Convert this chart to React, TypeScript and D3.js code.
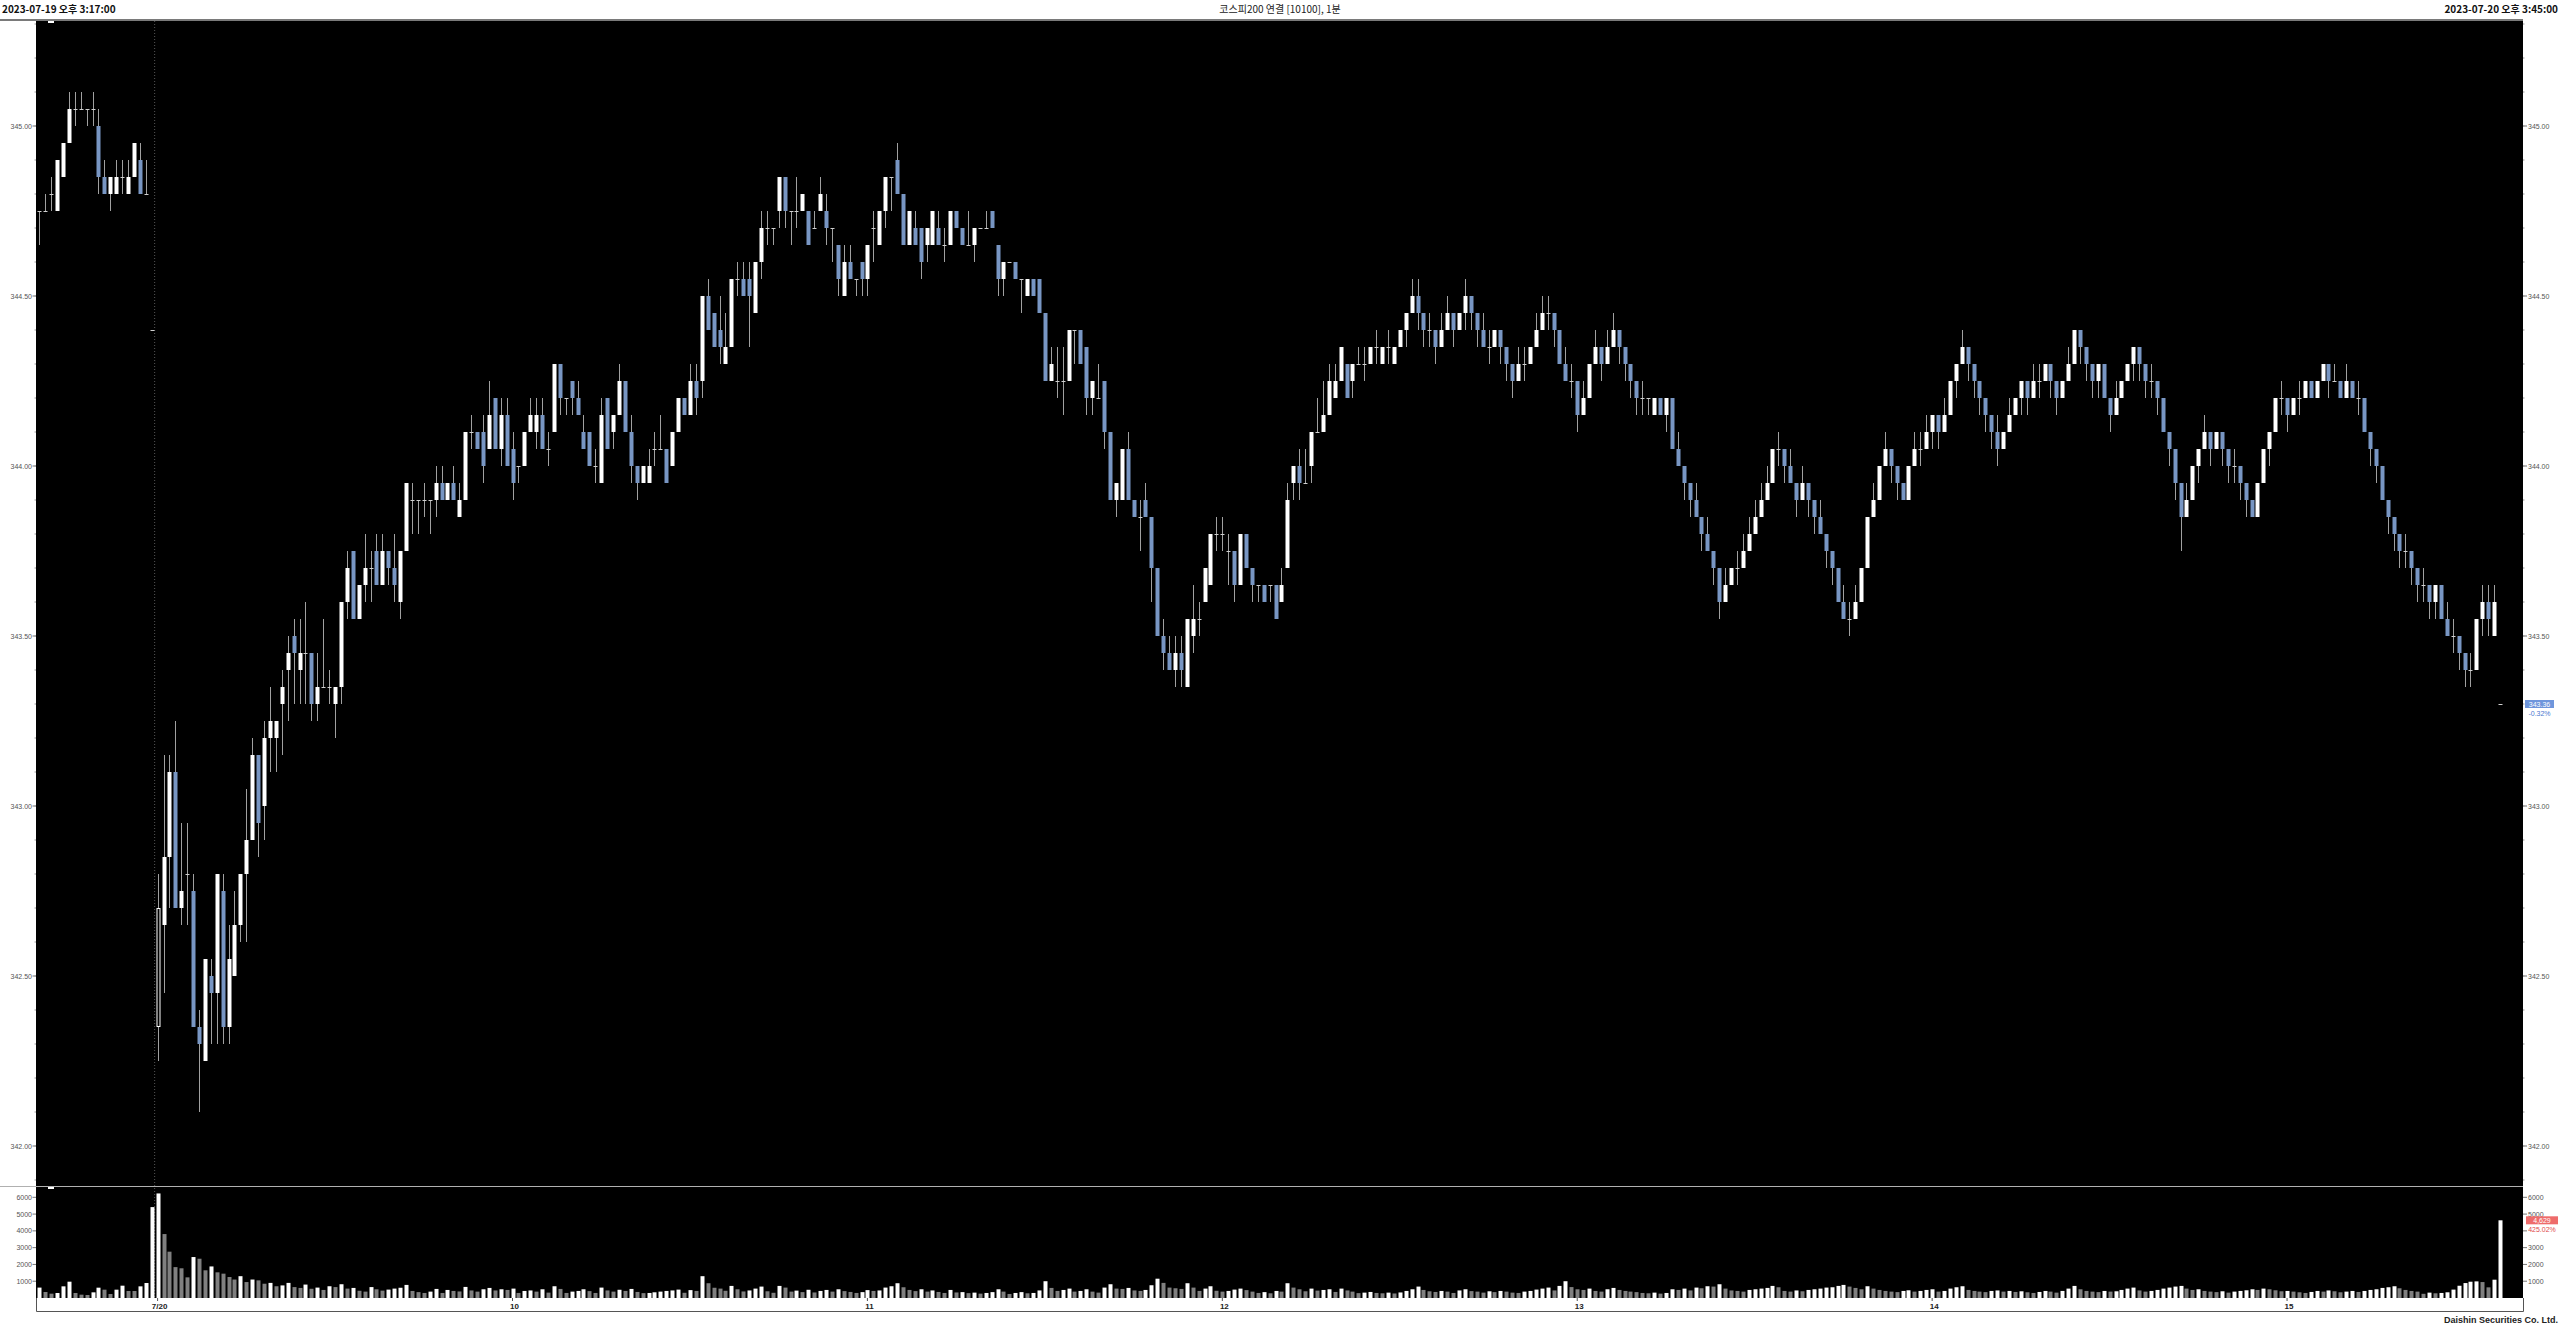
import React from 'react';
import * as d3 from 'd3';

type Candle = [number, number, number, number]; // open, high, low, close

const headerLeft = '2023-07-19 오후 3:17:00';
const headerTitle = '코스피200 연결 [10100], 1분';
const headerRight = '2023-07-20 오후 3:45:00';
const footerText = 'Daishin Securities Co. Ltd.';

const day1Candles: Candle[] = [
  [344.75, 344.75, 344.65, 344.75], [344.75, 344.8, 344.75, 344.75], [344.8, 344.85, 344.75, 344.8],
  [344.75, 344.9, 344.75, 344.9], [344.85, 344.95, 344.85, 344.95], [344.95, 345.1, 344.95, 345.05],
  [345.05, 345.1, 345.0, 345.05], [345.05, 345.1, 345.05, 345.05], [345.05, 345.05, 345.0, 345.05],
  [345.05, 345.1, 345.0, 345.05], [345.0, 345.05, 344.8, 344.85], [344.85, 344.9, 344.8, 344.8],
  [344.8, 344.85, 344.75, 344.85], [344.8, 344.9, 344.8, 344.85], [344.85, 344.9, 344.8, 344.85],
  [344.8, 344.9, 344.8, 344.85], [344.85, 344.95, 344.85, 344.95], [344.9, 344.95, 344.8, 344.8],
  [344.8, 344.9, 344.8, 344.8], [344.4, 344.4, 344.4, 344.4],
];

const day2Candles: Candle[] = [
  [342.35, 342.8, 342.25, 342.7], [342.65, 343.15, 342.45, 342.85], [342.85, 343.15, 342.7, 343.1],
  [343.1, 343.25, 342.7, 342.7], [342.7, 342.95, 342.65, 342.75], [342.8, 342.95, 342.65, 342.8],
  [342.75, 342.8, 342.35, 342.35], [342.35, 342.4, 342.1, 342.3], [342.25, 342.55, 342.25, 342.55],
  [342.5, 342.55, 342.3, 342.45], [342.45, 342.8, 342.3, 342.8], [342.75, 342.8, 342.3, 342.35],
  [342.35, 342.65, 342.3, 342.55], [342.5, 342.75, 342.5, 342.65], [342.65, 342.8, 342.6, 342.8],
  [342.8, 343.05, 342.6, 342.9], [342.9, 343.2, 342.9, 343.15], [343.15, 343.15, 342.85, 342.95],
  [343.0, 343.25, 342.9, 343.2], [343.2, 343.35, 343.1, 343.25], [343.2, 343.25, 343.1, 343.25],
  [343.3, 343.4, 343.15, 343.35], [343.4, 343.5, 343.25, 343.45], [343.5, 343.55, 343.3, 343.45],
  [343.4, 343.55, 343.3, 343.45], [343.45, 343.6, 343.3, 343.45], [343.45, 343.45, 343.25, 343.3],
  [343.3, 343.45, 343.25, 343.35], [343.35, 343.55, 343.35, 343.35], [343.35, 343.4, 343.3, 343.35],
  [343.3, 343.35, 343.2, 343.35], [343.35, 343.6, 343.3, 343.6], [343.6, 343.75, 343.55, 343.7],
  [343.75, 343.75, 343.55, 343.55], [343.55, 343.65, 343.55, 343.65], [343.65, 343.8, 343.6, 343.7],
  [343.7, 343.75, 343.6, 343.7], [343.75, 343.8, 343.65, 343.65], [343.65, 343.8, 343.65, 343.75],
  [343.75, 343.75, 343.65, 343.7], [343.7, 343.8, 343.6, 343.65], [343.6, 343.75, 343.55, 343.75],
  [343.75, 343.95, 343.75, 343.95], [343.9, 343.95, 343.8, 343.9], [343.9, 343.9, 343.8, 343.9],
  [343.9, 343.95, 343.85, 343.9], [343.9, 343.9, 343.8, 343.9], [343.9, 344.0, 343.85, 343.95],
  [343.95, 344.0, 343.9, 343.9], [343.9, 343.95, 343.9, 343.95], [343.95, 344.0, 343.9, 343.9],
  [343.85, 343.95, 343.85, 343.9], [343.9, 344.1, 343.9, 344.1], [344.1, 344.15, 344.05, 344.1],
  [344.1, 344.1, 344.05, 344.05], [344.1, 344.15, 343.95, 344.0], [344.05, 344.25, 344.05, 344.15],
  [344.2, 344.2, 344.05, 344.05], [344.05, 344.2, 344.0, 344.15], [344.15, 344.2, 344.0, 344.0],
  [344.05, 344.1, 343.9, 343.95], [344.0, 344.0, 343.95, 344.0], [344.0, 344.1, 344.0, 344.1],
  [344.1, 344.2, 344.1, 344.15], [344.1, 344.2, 344.05, 344.15], [344.15, 344.2, 344.05, 344.05],
  [344.05, 344.1, 344.0, 344.05], [344.1, 344.3, 344.1, 344.3], [344.3, 344.3, 344.15, 344.2],
  [344.2, 344.2, 344.15, 344.2], [344.25, 344.25, 344.15, 344.2], [344.2, 344.25, 344.15, 344.15],
  [344.1, 344.15, 344.05, 344.05], [344.1, 344.1, 344.0, 344.0], [344.0, 344.05, 343.95, 344.0],
  [343.95, 344.2, 343.95, 344.15], [344.2, 344.2, 344.05, 344.05], [344.1, 344.15, 344.05, 344.15],
  [344.15, 344.3, 344.15, 344.25], [344.25, 344.25, 344.1, 344.1], [344.1, 344.15, 343.95, 344.0],
  [344.0, 344.0, 343.9, 343.95], [343.95, 344.0, 343.95, 344.0], [343.95, 344.05, 343.95, 344.0],
  [344.05, 344.1, 344.0, 344.05], [344.05, 344.15, 344.05, 344.05], [344.05, 344.05, 343.95, 343.95],
  [344.0, 344.1, 344.0, 344.1], [344.1, 344.2, 344.1, 344.2], [344.2, 344.2, 344.15, 344.15],
  [344.15, 344.3, 344.15, 344.25], [344.25, 344.3, 344.15, 344.2], [344.25, 344.5, 344.2, 344.5],
  [344.5, 344.55, 344.4, 344.4], [344.45, 344.45, 344.35, 344.35], [344.4, 344.5, 344.3, 344.35],
  [344.3, 344.45, 344.3, 344.35], [344.35, 344.55, 344.35, 344.55], [344.55, 344.6, 344.5, 344.55],
  [344.55, 344.6, 344.5, 344.5], [344.55, 344.6, 344.35, 344.5], [344.45, 344.6, 344.45, 344.6],
  [344.6, 344.75, 344.55, 344.7], [344.7, 344.75, 344.65, 344.7], [344.7, 344.7, 344.65, 344.7],
  [344.75, 344.85, 344.7, 344.85], [344.85, 344.85, 344.7, 344.75], [344.75, 344.75, 344.65, 344.75],
  [344.75, 344.85, 344.7, 344.75], [344.75, 344.8, 344.75, 344.8], [344.75, 344.75, 344.65, 344.65],
  [344.7, 344.75, 344.7, 344.7], [344.75, 344.85, 344.75, 344.8], [344.75, 344.8, 344.65, 344.7],
  [344.7, 344.7, 344.6, 344.7], [344.65, 344.65, 344.5, 344.55], [344.5, 344.65, 344.5, 344.6],
  [344.6, 344.65, 344.55, 344.55], [344.55, 344.55, 344.5, 344.55], [344.6, 344.6, 344.5, 344.55],
  [344.55, 344.65, 344.5, 344.65], [344.7, 344.75, 344.6, 344.7], [344.65, 344.75, 344.65, 344.75],
  [344.75, 344.85, 344.7, 344.85], [344.85, 344.85, 344.75, 344.85], [344.9, 344.95, 344.8, 344.8],
  [344.8, 344.8, 344.65, 344.65], [344.65, 344.75, 344.65, 344.75], [344.7, 344.75, 344.65, 344.65],
  [344.7, 344.7, 344.55, 344.6], [344.65, 344.7, 344.6, 344.7], [344.65, 344.75, 344.65, 344.75],
  [344.7, 344.75, 344.65, 344.65], [344.65, 344.7, 344.6, 344.65], [344.65, 344.75, 344.65, 344.75],
  [344.75, 344.75, 344.7, 344.7], [344.7, 344.7, 344.65, 344.65], [344.65, 344.75, 344.65, 344.65],
  [344.65, 344.7, 344.6, 344.7], [344.7, 344.7, 344.7, 344.7], [344.7, 344.75, 344.7, 344.7],
  [344.75, 344.75, 344.7, 344.7], [344.65, 344.65, 344.5, 344.55], [344.55, 344.6, 344.5, 344.6],
  [344.6, 344.6, 344.6, 344.6], [344.6, 344.6, 344.55, 344.55], [344.55, 344.55, 344.45, 344.55],
  [344.5, 344.55, 344.5, 344.55], [344.55, 344.55, 344.5, 344.5], [344.55, 344.55, 344.45, 344.45],
  [344.45, 344.45, 344.25, 344.25], [344.25, 344.35, 344.25, 344.3], [344.25, 344.35, 344.2, 344.25],
  [344.25, 344.35, 344.15, 344.25], [344.25, 344.4, 344.25, 344.4], [344.4, 344.4, 344.3, 344.4],
  [344.4, 344.4, 344.3, 344.3], [344.35, 344.35, 344.15, 344.2], [344.2, 344.25, 344.15, 344.25],
  [344.2, 344.3, 344.2, 344.2], [344.25, 344.25, 344.05, 344.1], [344.1, 344.1, 343.9, 343.9],
  [343.9, 343.95, 343.85, 343.95], [343.9, 344.05, 343.9, 344.05], [344.05, 344.1, 343.9, 343.9],
  [343.9, 343.9, 343.85, 343.85], [343.85, 343.9, 343.75, 343.85], [343.9, 343.95, 343.85, 343.85],
  [343.85, 343.85, 343.6, 343.7], [343.7, 343.7, 343.5, 343.5], [343.5, 343.55, 343.4, 343.45],
  [343.45, 343.5, 343.4, 343.4], [343.4, 343.5, 343.35, 343.45], [343.45, 343.5, 343.35, 343.4],
  [343.35, 343.55, 343.35, 343.55], [343.5, 343.65, 343.45, 343.55], [343.55, 343.6, 343.5, 343.55],
  [343.6, 343.7, 343.6, 343.7], [343.65, 343.8, 343.65, 343.8], [343.8, 343.85, 343.75, 343.8],
  [343.8, 343.85, 343.75, 343.8], [343.75, 343.8, 343.65, 343.75], [343.75, 343.75, 343.6, 343.65],
  [343.65, 343.8, 343.65, 343.8], [343.8, 343.8, 343.7, 343.7], [343.7, 343.7, 343.6, 343.65],
  [343.65, 343.65, 343.6, 343.65], [343.65, 343.65, 343.6, 343.6], [343.65, 343.65, 343.6, 343.65],
  [343.65, 343.65, 343.55, 343.55], [343.6, 343.7, 343.6, 343.65], [343.7, 343.95, 343.7, 343.9],
  [343.95, 344.0, 343.9, 344.0], [344.0, 344.05, 343.9, 343.95], [343.95, 344.05, 343.95, 343.95],
  [344.0, 344.1, 343.95, 344.1], [344.1, 344.2, 344.1, 344.1], [344.1, 344.25, 344.1, 344.15],
  [344.15, 344.3, 344.15, 344.25], [344.2, 344.3, 344.2, 344.25], [344.25, 344.35, 344.25, 344.35],
  [344.3, 344.3, 344.2, 344.2], [344.25, 344.3, 344.2, 344.3], [344.3, 344.35, 344.3, 344.3],
  [344.3, 344.35, 344.25, 344.3], [344.3, 344.35, 344.3, 344.35], [344.35, 344.4, 344.3, 344.35],
  [344.3, 344.35, 344.3, 344.35], [344.35, 344.4, 344.3, 344.35], [344.3, 344.35, 344.3, 344.35],
  [344.35, 344.4, 344.35, 344.4], [344.4, 344.45, 344.35, 344.45], [344.45, 344.55, 344.45, 344.5],
  [344.5, 344.55, 344.4, 344.45], [344.45, 344.45, 344.35, 344.4], [344.4, 344.45, 344.35, 344.4],
  [344.4, 344.4, 344.3, 344.35], [344.35, 344.45, 344.35, 344.4], [344.4, 344.5, 344.4, 344.45],
  [344.45, 344.45, 344.35, 344.4], [344.4, 344.45, 344.4, 344.45], [344.45, 344.55, 344.4, 344.5],
  [344.5, 344.5, 344.4, 344.45], [344.45, 344.45, 344.35, 344.4], [344.4, 344.45, 344.35, 344.35],
  [344.35, 344.4, 344.3, 344.35], [344.35, 344.4, 344.35, 344.4], [344.4, 344.4, 344.3, 344.35],
  [344.35, 344.35, 344.25, 344.3], [344.3, 344.3, 344.2, 344.25], [344.25, 344.35, 344.25, 344.3],
  [344.3, 344.35, 344.25, 344.3], [344.3, 344.35, 344.3, 344.35], [344.35, 344.45, 344.35, 344.4],
  [344.4, 344.5, 344.4, 344.45], [344.45, 344.5, 344.4, 344.45], [344.45, 344.45, 344.35, 344.4],
  [344.4, 344.4, 344.3, 344.3], [344.3, 344.35, 344.25, 344.25], [344.25, 344.3, 344.2, 344.25],
  [344.25, 344.25, 344.1, 344.15], [344.15, 344.25, 344.15, 344.2], [344.2, 344.3, 344.2, 344.3],
  [344.3, 344.4, 344.3, 344.35], [344.35, 344.35, 344.25, 344.3], [344.3, 344.4, 344.3, 344.35],
  [344.35, 344.45, 344.35, 344.4], [344.4, 344.4, 344.3, 344.35], [344.35, 344.35, 344.25, 344.3],
  [344.3, 344.3, 344.2, 344.25], [344.25, 344.25, 344.15, 344.2], [344.2, 344.25, 344.15, 344.2],
  [344.2, 344.2, 344.15, 344.2], [344.15, 344.2, 344.15, 344.2], [344.2, 344.2, 344.15, 344.15],
  [344.15, 344.2, 344.1, 344.2], [344.2, 344.2, 344.05, 344.05], [344.05, 344.1, 344.0, 344.0],
  [344.0, 344.0, 343.9, 343.95], [343.95, 343.95, 343.85, 343.9], [343.9, 343.95, 343.85, 343.85],
  [343.85, 343.85, 343.75, 343.8], [343.8, 343.85, 343.75, 343.75], [343.75, 343.75, 343.65, 343.7],
  [343.7, 343.7, 343.55, 343.6], [343.6, 343.7, 343.6, 343.65], [343.65, 343.7, 343.65, 343.7],
  [343.7, 343.75, 343.65, 343.7], [343.7, 343.8, 343.7, 343.75], [343.75, 343.85, 343.75, 343.8],
  [343.8, 343.9, 343.8, 343.85], [343.85, 343.95, 343.85, 343.9], [343.9, 344.0, 343.9, 343.95],
  [343.95, 344.05, 343.95, 344.05], [344.05, 344.1, 344.0, 344.05], [344.05, 344.05, 343.95, 344.0],
  [344.0, 344.05, 343.95, 343.95], [343.95, 343.95, 343.85, 343.9], [343.9, 344.0, 343.9, 343.95],
  [343.95, 343.95, 343.85, 343.9], [343.9, 343.9, 343.8, 343.85], [343.85, 343.9, 343.8, 343.8],
  [343.8, 343.8, 343.7, 343.75], [343.75, 343.75, 343.65, 343.7], [343.7, 343.7, 343.6, 343.6],
  [343.6, 343.65, 343.55, 343.55], [343.55, 343.6, 343.5, 343.55], [343.55, 343.65, 343.55, 343.6],
  [343.6, 343.7, 343.6, 343.7], [343.7, 343.85, 343.7, 343.85], [343.85, 343.95, 343.85, 343.9],
  [343.9, 344.0, 343.9, 344.0], [344.0, 344.1, 344.0, 344.05], [344.05, 344.05, 343.95, 344.0],
  [344.0, 344.0, 343.9, 343.95], [343.95, 343.95, 343.9, 343.9], [343.9, 344.0, 343.9, 344.0],
  [344.0, 344.1, 344.0, 344.05], [344.05, 344.1, 344.0, 344.05], [344.05, 344.15, 344.05, 344.1],
  [344.1, 344.15, 344.05, 344.15], [344.15, 344.15, 344.05, 344.1], [344.1, 344.2, 344.1, 344.15],
  [344.15, 344.25, 344.15, 344.25], [344.25, 344.3, 344.2, 344.3], [344.3, 344.4, 344.3, 344.35],
  [344.35, 344.35, 344.25, 344.3], [344.3, 344.3, 344.2, 344.25], [344.25, 344.25, 344.15, 344.2],
  [344.2, 344.2, 344.1, 344.15], [344.15, 344.15, 344.05, 344.1], [344.1, 344.15, 344.0, 344.05],
  [344.05, 344.1, 344.05, 344.1], [344.1, 344.2, 344.1, 344.15], [344.15, 344.2, 344.15, 344.2],
  [344.2, 344.25, 344.15, 344.25], [344.25, 344.25, 344.15, 344.2], [344.2, 344.3, 344.2, 344.25],
  [344.25, 344.3, 344.2, 344.25], [344.25, 344.3, 344.25, 344.3], [344.3, 344.3, 344.2, 344.25],
  [344.25, 344.25, 344.15, 344.2], [344.2, 344.25, 344.2, 344.25], [344.25, 344.35, 344.25, 344.3],
  [344.3, 344.4, 344.3, 344.4], [344.4, 344.4, 344.3, 344.35], [344.35, 344.35, 344.25, 344.3],
  [344.3, 344.3, 344.2, 344.25], [344.25, 344.3, 344.2, 344.3], [344.3, 344.3, 344.2, 344.2],
  [344.2, 344.2, 344.1, 344.15], [344.15, 344.25, 344.15, 344.2], [344.2, 344.25, 344.2, 344.25],
  [344.25, 344.3, 344.25, 344.3], [344.3, 344.35, 344.25, 344.35], [344.35, 344.35, 344.25, 344.3],
  [344.3, 344.3, 344.2, 344.25], [344.25, 344.3, 344.2, 344.25], [344.25, 344.25, 344.15, 344.2],
  [344.2, 344.2, 344.1, 344.1], [344.1, 344.1, 344.0, 344.05], [344.05, 344.05, 343.9, 343.95],
  [343.95, 343.95, 343.75, 343.85], [343.85, 343.95, 343.85, 343.9], [343.9, 344.0, 343.9, 344.0],
  [344.0, 344.05, 343.95, 344.05], [344.05, 344.15, 344.05, 344.1], [344.1, 344.1, 344.0, 344.05],
  [344.05, 344.1, 344.05, 344.1], [344.1, 344.1, 344.0, 344.05], [344.05, 344.05, 343.95, 344.0],
  [344.0, 344.05, 343.95, 344.0], [344.0, 344.0, 343.9, 343.95], [343.95, 343.95, 343.85, 343.9],
  [343.9, 343.9, 343.85, 343.85], [343.85, 343.95, 343.85, 343.95], [343.95, 344.05, 343.95, 344.05],
  [344.05, 344.1, 344.0, 344.1], [344.1, 344.2, 344.1, 344.2], [344.2, 344.25, 344.15, 344.2],
  [344.2, 344.2, 344.1, 344.15], [344.15, 344.2, 344.15, 344.2], [344.2, 344.25, 344.15, 344.2],
  [344.2, 344.25, 344.2, 344.25], [344.25, 344.25, 344.2, 344.2], [344.2, 344.25, 344.2, 344.25],
  [344.25, 344.3, 344.25, 344.3], [344.3, 344.3, 344.2, 344.25], [344.25, 344.3, 344.25, 344.25],
  [344.25, 344.25, 344.2, 344.2], [344.2, 344.3, 344.2, 344.25], [344.25, 344.25, 344.2, 344.2],
  [344.2, 344.25, 344.15, 344.2], [344.2, 344.2, 344.1, 344.1], [344.1, 344.1, 344.0, 344.05],
  [344.05, 344.05, 343.95, 344.0], [344.0, 344.0, 343.9, 343.9], [343.9, 343.9, 343.8, 343.85],
  [343.85, 343.85, 343.75, 343.8], [343.8, 343.8, 343.7, 343.75], [343.75, 343.8, 343.7, 343.75],
  [343.75, 343.75, 343.65, 343.7], [343.7, 343.7, 343.6, 343.65], [343.65, 343.7, 343.6, 343.65],
  [343.65, 343.65, 343.55, 343.6], [343.6, 343.65, 343.55, 343.65], [343.65, 343.65, 343.55, 343.55],
  [343.55, 343.6, 343.5, 343.5], [343.5, 343.55, 343.45, 343.5], [343.5, 343.5, 343.4, 343.45],
  [343.45, 343.45, 343.35, 343.4], [343.4, 343.45, 343.35, 343.4], [343.4, 343.55, 343.4, 343.55],
  [343.55, 343.65, 343.5, 343.6], [343.6, 343.65, 343.5, 343.55], [343.5, 343.65, 343.5, 343.6],
  [343.3, 343.3, 343.3, 343.3],
];

const volumes: number[] = [
  620, 357, 258, 298, 694, 972, 298, 198, 179, 337, 615, 496, 238, 496, 734, 417, 417, 694, 893, 5416,
  6230, 3810, 2760, 1840, 1770, 1230, 2440, 2340, 1650, 1880, 1530,
  1450, 1250, 1100, 1300, 950, 1100, 1050, 850, 900, 700,
  750, 900, 650, 600, 800, 550, 620, 480, 700, 650,
  820, 560, 600, 430, 380, 650, 520, 440, 500, 560,
  610, 780, 420, 350, 300, 380, 540, 300, 480, 420,
  390, 660, 450, 380, 520, 600, 450, 520, 480, 560,
  300, 420, 450, 380, 520, 320, 700, 540, 300, 380,
  420, 520, 410, 300, 620, 450, 380, 490, 420, 540,
  360, 290, 300, 340, 380, 420, 450, 500, 310, 470,
  420, 1300, 880, 610, 560, 430, 720, 520, 390, 450,
  560, 680, 400, 310, 720, 620, 380, 440, 350, 490,
  330, 420, 480, 380, 520, 410, 360, 300, 350, 470,
  420, 450, 620, 700, 880, 640, 480, 410, 520, 380,
  450, 360, 300, 480, 330, 350, 290, 320, 260, 300,
  350, 520, 380, 240, 300, 350, 280, 300, 450, 1000,
  600, 420, 480, 560, 380, 420, 520, 380, 320, 620,
  820, 560, 540, 600, 450, 420, 480, 760, 1150, 900,
  620, 580, 540, 880, 620, 420, 560, 700, 430, 380,
  420, 500, 560, 470, 380, 300, 350, 280, 420, 380,
  880, 620, 520, 400, 560, 440, 480, 520, 360, 560,
  450, 380, 290, 320, 360, 300, 280, 320, 270, 330,
  420, 520, 680, 480, 400, 360, 420, 380, 300, 450,
  520, 410, 380, 320, 400, 350, 420, 380, 320, 300,
  380, 420, 500, 560, 620, 450, 720, 1000, 650, 520,
  480, 560, 420, 380, 520, 600, 480, 420, 380, 350,
  300, 280, 320, 260, 300, 520, 480, 560, 450, 620,
  580, 700, 680, 820, 560, 450, 420, 380, 480, 520,
  560, 600, 720, 640, 420, 380, 450, 400, 480, 520,
  560, 620, 640, 720, 780, 680, 600, 520, 700, 560,
  480, 420, 380, 350, 420, 460, 380, 420, 480, 520,
  380, 420, 560, 640, 700, 480, 420, 380, 350, 420,
  450, 380, 420, 360, 400, 340, 300, 360, 420, 380,
  320, 420, 560, 720, 520, 420, 380, 350, 420, 380,
  400, 480, 560, 620, 450, 380, 420, 480, 560, 620,
  680, 720, 560, 480, 520, 420, 380, 350, 400, 320,
  380, 420, 460, 520, 480, 560, 520, 460, 400, 420,
  380, 340, 300, 360, 420, 380, 450, 400, 340, 380,
  420, 360, 420, 480, 520, 600, 640, 700, 580, 480,
  420, 380, 250, 320, 280,
  300, 340, 500, 730, 890, 970, 990, 950, 635, 1090, 4629,
];

const priceTicks = [342, 342.5, 343, 343.5, 344, 344.5, 345];
const volumeTicks = [1000, 2000, 3000, 4000, 5000, 6000];
const timeLabels = ['7/20', '10', '11', '12', '13', '14', '15'];
const timeLabelIndex = [20, 80, 140, 200, 260, 320, 380];

const lastPriceText = '343.36';
const lastPriceLevel = 343.3;
const priceChangeText = '-0.32%';
const lastVolume = 4629;
const lastVolumeText = '4,629';
const volumeChangeText = '425.02%';

const W = 2560;
const H = 1328;
const PL = 36;
const PR = 2523;
const PT = 21;
const PB = 1186;
const VT = 1187;
const VB = 1298;
const UP = '#ffffff';
const DOWN = '#7896c3';
const WICK = '#a0a0a0';

export default function App() {
  const candles = [...day1Candles, ...day2Candles];
  const total = candles.length;
  const x = d3.scaleLinear().domain([0, total - 1]).range([39.3, 2500]);
  const y = d3.scaleLinear().domain([342, 345]).range([1146, 126]);
  const yv = d3.scaleLinear().domain([0, 6000]).range([VB, VB - 100.7]);
  const bw = 4;
  const minor = d3.range(3419, 3454).map((v) => v / 10).filter((v) => y(v) > PT && y(v) < PB);
  const sepX = (x(day1Candles.length - 1) + x(day1Candles.length)) / 2;
  const fontAxis = 'Liberation Sans, Arial, sans-serif';
  const fontKr = '"Noto Sans CJK KR", sans-serif';
  const volChangeY = yv(lastVolume) + 12;

  return (
    <svg width={W} height={H} style={{ position: 'absolute', left: 0, top: 0, background: '#fff' }}>
      <rect x={0} y={0} width={W} height={H} fill="#fff" />
      <text x={2} y={13} fontFamily={fontKr} fontSize={10} fontWeight="bold" fill="#111">{headerLeft}</text>
      <text x={W / 2} y={13} fontFamily={fontKr} fontSize={10} textAnchor="middle" fill="#222">{headerTitle}</text>
      <text x={2558} y={13} fontFamily={fontKr} fontSize={10} fontWeight="bold" textAnchor="end" fill="#111">{headerRight}</text>
      <line x1={0} x2={PR} y1={20} y2={20} stroke="#7a7a7a" strokeWidth={2} />

      <rect x={PL} y={PT} width={PR - PL} height={PB - PT} fill="#000" />
      <line x1={0} x2={PR} y1={PB + 0.5} y2={PB + 0.5} stroke="#b0b0b0" strokeWidth={1} />
      <rect x={PL} y={VT} width={PR - PL} height={VB - VT} fill="#000" />
      <path d={`M${PL + 0.5},${VB} V${1311.5} H${PR + 0.5} V${VB}`} fill="none" stroke="#555" strokeWidth={1} />
      <line x1={sepX} x2={sepX} y1={PT} y2={VB} stroke="#555" strokeDasharray="1,2" />
      <rect x={48} y={PT} width={6} height={2} fill="#fff" />
      <rect x={48} y={VT} width={6} height={2} fill="#fff" />

      {priceTicks.map((p) => (
        <g key={'pl' + p}>
          <text x={32} y={y(p) + 2.5} fontFamily={fontAxis} fontSize={7} textAnchor="end" fill="#555">{p.toFixed(2)}</text>
          <line x1={32.5} x2={PL} y1={y(p)} y2={y(p)} stroke="#777" />
          <line x1={PR} x2={PR + 4} y1={y(p)} y2={y(p)} stroke="#777" />
          <text x={PR + 5} y={y(p) + 2.5} fontFamily={fontAxis} fontSize={7} fill="#555">{p.toFixed(2)}</text>
        </g>
      ))}
      {minor.map((p) => (
        <g key={'mn' + p}>
          <line x1={PL - 1.5} x2={PL} y1={y(p)} y2={y(p)} stroke="#999" />
          <line x1={PR} x2={PR + 1.5} y1={y(p)} y2={y(p)} stroke="#999" />
        </g>
      ))}

      {volumeTicks.map((v) => (
        <g key={'vl' + v}>
          <text x={32} y={yv(v) + 2.5} fontFamily={fontAxis} fontSize={7} textAnchor="end" fill="#555">{v}</text>
          <line x1={32.5} x2={PL} y1={yv(v)} y2={yv(v)} stroke="#777" />
          <line x1={PR} x2={PR + 4} y1={yv(v)} y2={yv(v)} stroke="#777" />
          {Math.abs(yv(v) + 2.5 - volChangeY) > 7 && (
            <text x={PR + 5} y={yv(v) + 2.5} fontFamily={fontAxis} fontSize={7} fill="#555">{v}</text>
          )}
        </g>
      ))}

      {timeLabels.map((t, i) => (
        <g key={'t' + t}>
          <line x1={x(timeLabelIndex[i])} x2={x(timeLabelIndex[i])} y1={VB} y2={VB + 3} stroke="#555" />
          <text x={x(timeLabelIndex[i]) + 2} y={1309} fontFamily={fontAxis} fontSize={8} fontWeight="bold" textAnchor="middle" fill="#222">{t}</text>
        </g>
      ))}

      {candles.map((c, i) => {
        const [o, h, l, cl] = c;
        const cx = Math.round(x(i)) + 0.5;
        const prev = i > 0 ? candles[i - 1][3] : o;
        const up = cl > o;
        const down = cl < o;
        const color = up ? UP : down ? DOWN : '#d0d0d0';
        const hollow = (up && cl < prev) || (down && cl > prev);
        const top = y(Math.max(o, cl));
        const bot = y(Math.min(o, cl));
        return (
          <g key={'c' + i}>
            <line x1={cx} x2={cx} y1={y(h)} y2={y(l)} stroke={WICK} strokeWidth={1} />
            {up || down ? (
              hollow ? (
                <rect x={cx - bw / 2 + 0.5} y={top + 0.5} width={bw - 1} height={bot - top - 1} fill="#000" stroke={color} strokeWidth={1} />
              ) : (
                <rect x={cx - bw / 2} y={top} width={bw} height={bot - top} fill={color} />
              )
            ) : (
              <line x1={cx - bw / 2} x2={cx + bw / 2} y1={Math.round(top) + 0.5} y2={Math.round(top) + 0.5} stroke={color} strokeWidth={1} />
            )}
          </g>
        );
      })}

      {volumes.map((v, i) => {
        const cx = Math.round(x(i)) + 0.5;
        const rising = i === 0 || v > volumes[i - 1];
        return <rect key={'v' + i} x={cx - bw / 2} y={yv(v)} width={bw} height={VB - yv(v)} fill={rising ? '#ffffff' : '#808080'} />;
      })}

      <rect x={2525} y={y(lastPriceLevel) - 4} width={29} height={8} fill="#6f96dc" />
      <text x={2539.5} y={y(lastPriceLevel) + 2.5} fontFamily={fontAxis} fontSize={7} textAnchor="middle" fill="#fff">{lastPriceText}</text>
      <text x={2539.5} y={y(lastPriceLevel) + 12} fontFamily={fontAxis} fontSize={7} textAnchor="middle" fill="#4a78d0">{priceChangeText}</text>
      <rect x={2526} y={yv(lastVolume) - 4} width={32} height={8} fill="#ee6b6b" />
      <text x={2542} y={yv(lastVolume) + 2.5} fontFamily={fontAxis} fontSize={7} textAnchor="middle" fill="#fff">{lastVolumeText}</text>
      <text x={2542} y={volChangeY} fontFamily={fontAxis} fontSize={7} textAnchor="middle" fill="#e04848">{volumeChangeText}</text>

      <text x={2558} y={1323} fontFamily={fontAxis} fontSize={9} fontWeight="bold" textAnchor="end" fill="#222">{footerText}</text>
    </svg>
  );
}
